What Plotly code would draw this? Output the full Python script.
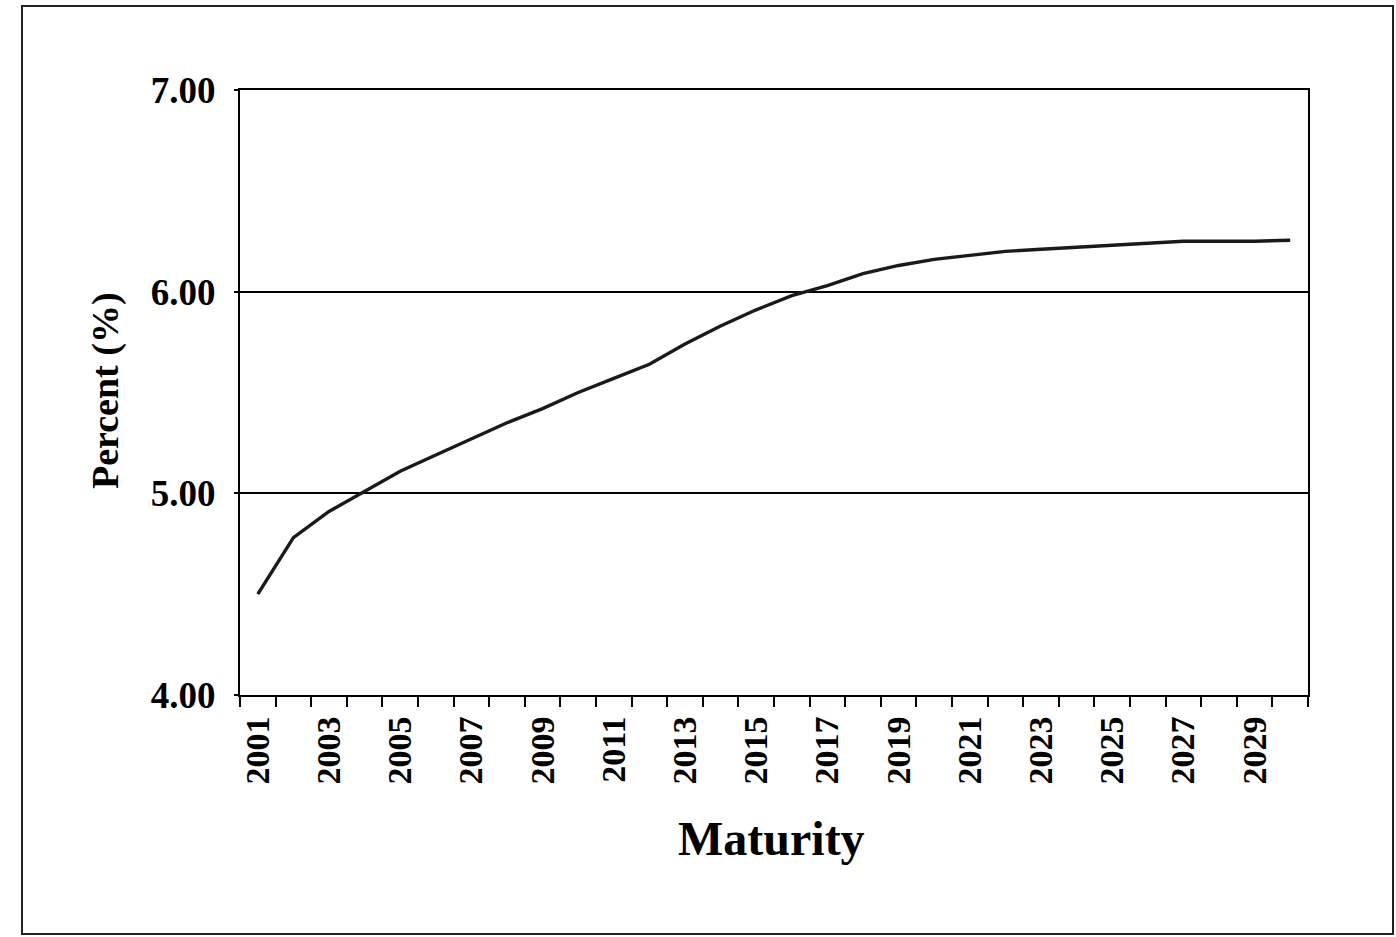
import plotly.graph_objects as go

years = list(range(2001, 2031))
yields = [4.50, 4.78, 4.91, 5.01, 5.11, 5.19, 5.27, 5.35, 5.42, 5.50,
          5.57, 5.64, 5.74, 5.83, 5.91, 5.98, 6.03, 6.09, 6.13, 6.16,
          6.18, 6.20, 6.21, 6.22, 6.23, 6.24, 6.25, 6.25, 6.25, 6.255]
label_years = list(range(2001, 2030, 2))
y_ticks = [4, 5, 6, 7]
y_ticktext = ["4.00", "5.00", "6.00", "7.00"]

FONT = "Liberation Serif"

fig = go.Figure()
fig.add_trace(go.Scatter(x=years, y=yields, mode="lines",
                         line=dict(color="#1a1a1a", width=3.4),
                         showlegend=False, hoverinfo="skip"))

fig.update_layout(
    width=1396, height=937,
    margin=dict(l=240, r=88, t=90, b=242),
    paper_bgcolor="white", plot_bgcolor="white",
    font=dict(family=FONT, color="black"),
)

fig.update_xaxes(
    range=[2000.5, 2030.5],
    tickvals=label_years,
    ticktext=[f"<b>{y}</b>" for y in label_years],
    tickangle=-90,
    tickfont=dict(family=FONT, size=34, color="black"),
    ticks="outside", ticklen=6, tickcolor="rgba(0,0,0,0)",
    minor=dict(tick0=2000.5, dtick=1, ticks="outside", ticklen=10,
               tickwidth=2, tickcolor="black", showgrid=False),
    showline=True, linecolor="black", linewidth=2, mirror=True,
    showgrid=False, zeroline=False,
)
fig.update_yaxes(
    range=[4, 7],
    tickvals=y_ticks,
    ticktext=[f"<b>{t}</b>" for t in y_ticktext],
    tickfont=dict(family=FONT, size=37, color="black"),
    ticks="outside", ticklen=4, tickwidth=2, tickcolor="black",
    ticklabelstandoff=11,
    showline=True, linecolor="black", linewidth=2, mirror=True,
    showgrid=True, gridcolor="black", gridwidth=2, zeroline=False,
)

fig.add_annotation(text="<b>Maturity</b>", xref="paper", yref="paper",
                   x=(771 - 240) / 1068, y=(695 - 838) / 605,
                   xanchor="center", yanchor="middle",
                   showarrow=False, font=dict(family=FONT, size=48, color="black"))
fig.add_annotation(text="<b>Percent (%)</b>", xref="paper", yref="paper",
                   x=(105 - 240) / 1068, y=(695 - 391) / 605,
                   xanchor="center", yanchor="middle",
                   textangle=-90, showarrow=False,
                   font=dict(family=FONT, size=38, color="black"))

fig.add_shape(type="rect", xref="paper", yref="paper",
              x0=(22 - 240) / 1068, x1=(1393 - 240) / 1068,
              y0=(695 - 934) / 605, y1=(695 - 6) / 605,
              line=dict(color="#222222", width=2), fillcolor="rgba(0,0,0,0)")

fig.write_html("out.html", config={"displayModeBar": False},
               post_script="document.body.style.margin='0px';document.body.style.overflow='hidden';")
